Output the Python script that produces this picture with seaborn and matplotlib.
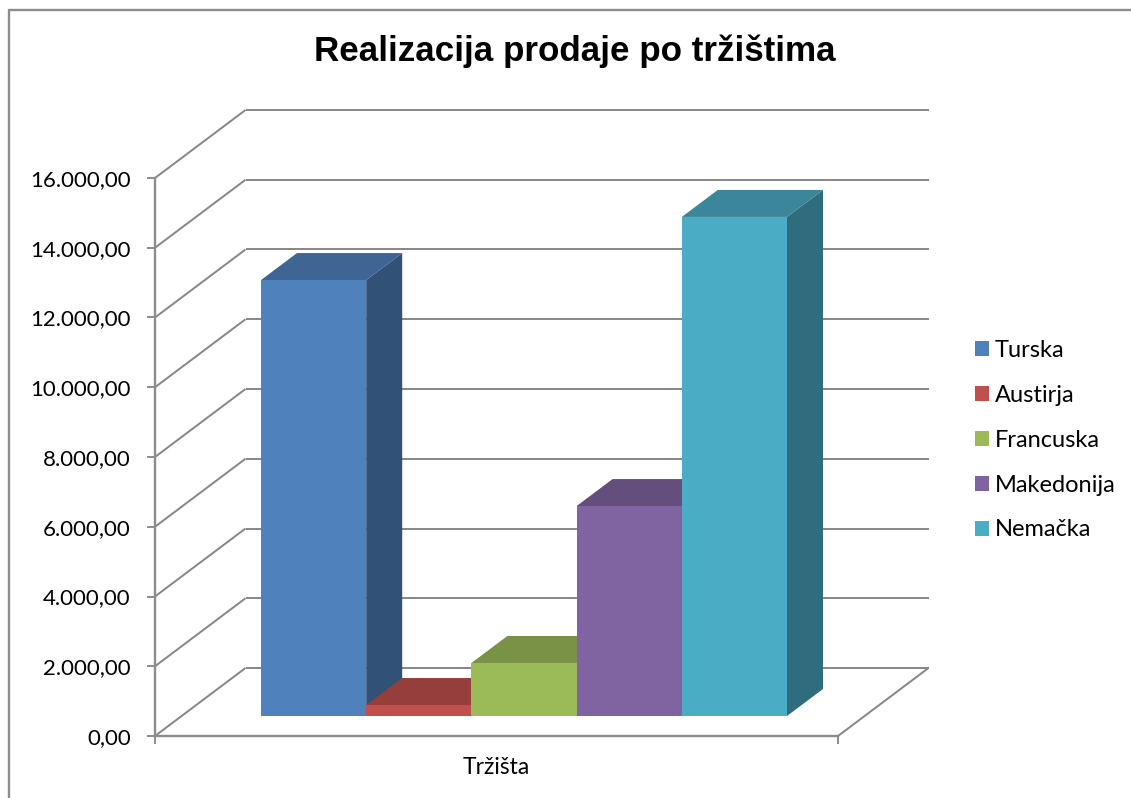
import matplotlib
matplotlib.use('Agg')
import matplotlib.pyplot as plt
from matplotlib.lines import Line2D
from matplotlib.patches import Polygon
import pandas as pd
import seaborn as sns

# podaci
countries = ['Turska', 'Austirja', 'Francuska', 'Makedonija', 'Nemačka']
sales = [12500, 315, 1520, 6020, 14310]
market = 'Tržišta'
colors = ['#4F81BD', '#C0504D', '#9BBB59', '#8064A2', '#4BACC6']
tick_values = [0, 2000, 4000, 6000, 8000, 10000, 12000, 14000, 16000]
tick_labels = ['0,00', '2.000,00', '4.000,00', '6.000,00', '8.000,00',
               '10.000,00', '12.000,00', '14.000,00', '16.000,00']

GRID = '#868686'
W, H = 1131, 798

# velicina jednog piksela u jedinicama osa
PX_X = 1 / 526
PX_Y = 16000 / 558

sns.set_theme(style='white')
plt.rcParams['font.family'] = ['Lato', 'DejaVu Sans']

df = pd.DataFrame({'market': market, 'country': countries, 'sales': sales})

fig = plt.figure(figsize=(W / 100, H / 100), dpi=100)
rect = [155 / W, (H - 736) / H, 683 / W, 558 / H]
ax = fig.add_axes(rect)
# stubovi imaju svoje ose, nula im je odignuta od poda kao u 3D prikazu
bar_ax = fig.add_axes(rect)
bar_ax.patch.set_alpha(0)

sns.barplot(data=df, x='market', y='sales', hue='country', hue_order=countries,
            palette=colors, saturation=1, width=1, gap=0, dodge=True,
            linewidth=0, zorder=5, ax=bar_ax)

x_left = -0.5 - 106 * PX_X
x_right = x_left + 683 * PX_X
floor_gap = 20 * PX_Y
for a in [ax, bar_ax]:
    a.set_xlim(x_left, x_right)
ax.set_ylim(0, 16000)
bar_ax.set_ylim(-floor_gap, 16000 - floor_gap)

# zidovi i pod
wall_dx = 90.5 * PX_X
wall_dy = 68 * PX_Y
line_kw = dict(color=GRID, lw=1.4, clip_on=False, zorder=1, solid_capstyle='butt')
for v in tick_values:
    ax.plot([x_left, x_left + wall_dx], [v, v + wall_dy], **line_kw)
    ax.plot([x_left + wall_dx, x_right + wall_dx], [v + wall_dy, v + wall_dy], **line_kw)
ax.plot([x_right, x_right + wall_dx], [0, wall_dy], **line_kw)


def darker(color, factor):
    r, g, b = matplotlib.colors.to_rgb(color)
    return (r * factor, g * factor, b * factor)


# bocne i gornje strane, s leva na desno
# (seaborn dodaje i prazne pravougaonike za legendu, njih preskacemo)
bar_dx = 36 * PX_X
bar_dy = 27 * PX_Y
bars = sorted([p for p in bar_ax.patches if p.get_width() > 0], key=lambda p: p.get_x())
for i, (bar, c) in enumerate(zip(bars, colors)):
    x0 = bar.get_x()
    x1 = x0 + bar.get_width()
    y0 = bar.get_y()
    y1 = y0 + bar.get_height()
    side = [(x1, y0), (x1 + bar_dx, y0 + bar_dy), (x1 + bar_dx, y1 + bar_dy), (x1, y1)]
    top = [(x0, y1), (x0 + bar_dx, y1 + bar_dy), (x1 + bar_dx, y1 + bar_dy), (x1, y1)]
    bar_ax.add_patch(Polygon(side, fc=darker(c, 0.63), lw=0, zorder=2 + i * 0.1, clip_on=False))
    bar_ax.add_patch(Polygon(top, fc=darker(c, 0.78), lw=0, zorder=2.05 + i * 0.1, clip_on=False))

# ose
bar_ax.axis('off')
sns.despine(ax=ax)
for s in ['left', 'bottom']:
    ax.spines[s].set_color('#8c8c8c')
    ax.spines[s].set_linewidth(1.7)
ax.set_yticks(tick_values)
ax.set_yticklabels(tick_labels)
ax.set_xticks([x_left, x_right])
ax.set_xticklabels(['', ''])
ax.tick_params(axis='both', length=5.5, width=1.4, color='#8c8c8c', left=True, bottom=True)
ax.tick_params(axis='y', labelsize=16, pad=12, labelcolor='black')
ax.set_ylabel('')
ax.set_xlabel(market, fontsize=16.5, labelpad=6, color='black')

# legenda
handles, labels = bar_ax.get_legend_handles_labels()
bar_ax.legend(handles, labels, loc='upper left', bbox_to_anchor=(975 / W, 1 - 340 / H),
              bbox_transform=fig.transFigure, frameon=False, fontsize=17, borderpad=0,
              borderaxespad=0, handlelength=0.6, handleheight=0.6, handletextpad=0.25,
              labelspacing=1.01, labelcolor='black')

fig.text(575 / W, 1 - 51.5 / H, 'Realizacija prodaje po tržištima', ha='center', va='center',
         fontsize=25.2, fontweight='bold', family=['Liberation Sans'], color='black')

# okvir grafikona
for xs, ys in [([9, 9], [10, H]), ([9, W], [10, 10])]:
    fig.add_artist(Line2D([x / W for x in xs], [1 - y / H for y in ys],
                          color='#8c8c8c', lw=1.7))

fig.savefig('out.png', dpi=100)
